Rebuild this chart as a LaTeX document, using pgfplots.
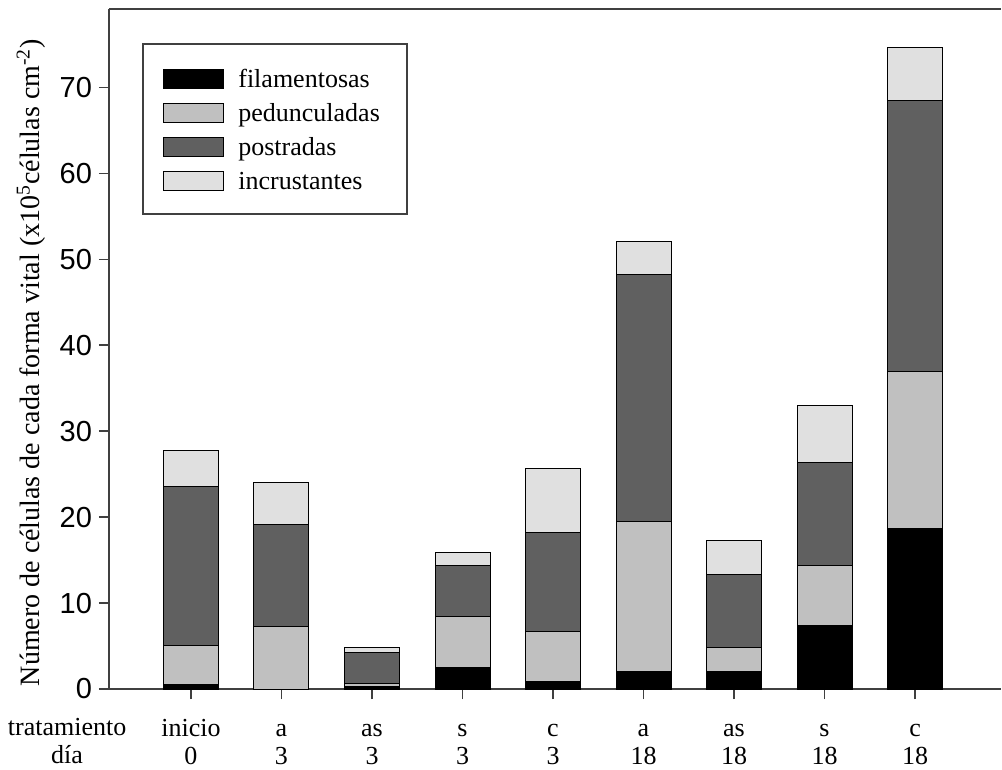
\documentclass[border=0pt]{standalone}
\usepackage{fontspec}
\setmainfont{Liberation Serif}
\newfontfamily\arialfont{Liberation Sans}
\usepackage{pgfplots}
\pgfplotsset{compat=1.18}
\definecolor{ped}{HTML}{C0C0C0}
\definecolor{pos}{HTML}{606060}
\definecolor{inc}{HTML}{E0E0E0}
\definecolor{axgray}{HTML}{404040}
\begin{document}
\begin{tikzpicture}
\begin{axis}[
  name=ax,
  scale only axis, width=446pt, height=340pt,
  ybar stacked, bar width=27.5pt,
  xmin=-0.906, xmax=8.95, ymin=0, ymax=79.1,
  clip=false,
  axis lines=left, axis line style={-, axgray, line width=0.65pt},
  tick align=outside, major tick length=5pt,
  tick style={axgray, line width=0.65pt},
  xtick={0,...,8}, xticklabels={inicio,a,as,s,c,a,as,s,c},
  ytick={0,10,...,70},
  /pgf/number format/assume math mode=true,
  yticklabel style={font=\arialfont\fontsize{14.5}{16}\selectfont},
  xticklabel style={font=\fontsize{13}{14}\selectfont, anchor=base, yshift=-18.5pt},
  extra x ticks={0,...,8},
  extra x tick labels={0,3,3,3,3,18,18,18,18},
  extra x tick style={xticklabel style={yshift=-14pt}},
  ylabel={Número de células de cada forma vital (x10\textsuperscript{5}células cm\textsuperscript{-2})},
  ylabel style={font=\fontsize{14}{15}\selectfont, at={(ticklabel cs:0.48)}},
  legend style={at={(0.0605,0.9118)}, anchor=north west, draw=none, fill=none,
    inner sep=0pt, row sep=7pt, column sep=7pt,
    font=\fontsize{13}{14}\selectfont,
    nodes={inner sep=0pt, text height=9pt, text depth=1pt}},
  legend cell align=left,
  legend image code/.code={\draw[#1] (0pt,-4.75pt) rectangle (30pt,4.75pt);},
]
\addplot[fill=black, draw=black, line width=0.5pt] coordinates {(0,0.55) (1,0) (2,0.30) (3,2.52) (4,0.90) (5,2.06) (6,2.00) (7,7.33) (8,18.70)};
\addlegendentry{filamentosas}
\addplot[fill=ped, draw=black, line width=0.5pt] coordinates {(0,4.48) (1,7.25) (2,0.36) (3,5.97) (4,5.80) (5,17.44) (6,2.80) (7,7.01) (8,18.28)};
\addlegendentry{pedunculadas}
\addplot[fill=pos, draw=black, line width=0.5pt] coordinates {(0,18.54) (1,11.90) (2,3.60) (3,5.86) (4,11.50) (5,28.70) (6,8.50) (7,12.02) (8,31.42)};
\addlegendentry{postradas}
\addplot[fill=inc, draw=black, line width=0.5pt] coordinates {(0,4.13) (1,4.92) (2,0.59) (3,1.51) (4,7.40) (5,3.90) (6,3.95) (7,6.62) (8,6.20)};
\addlegendentry{incrustantes}
\draw[axgray, line width=0.65pt] (rel axis cs:0,1) -- (rel axis cs:1,1);
\draw[axgray, line width=0.65pt] (rel axis cs:0.0381,0.9485) rectangle (rel axis cs:0.334,0.6985);
\node[anchor=base, font=\fontsize{13}{14}\selectfont] at ([yshift=-23pt]rel axis cs:-0.047,0) {tratamiento};
\node[anchor=base, font=\fontsize{13}{14}\selectfont] at ([yshift=-37pt]rel axis cs:-0.047,0) {día};
\end{axis}
\pgfresetboundingbox
\path[use as bounding box] ([shift={(-54.5pt,-40pt)}]ax.south west) rectangle ([shift={(0.5pt,4.5pt)}]ax.north east);
\end{tikzpicture}
\end{document}
